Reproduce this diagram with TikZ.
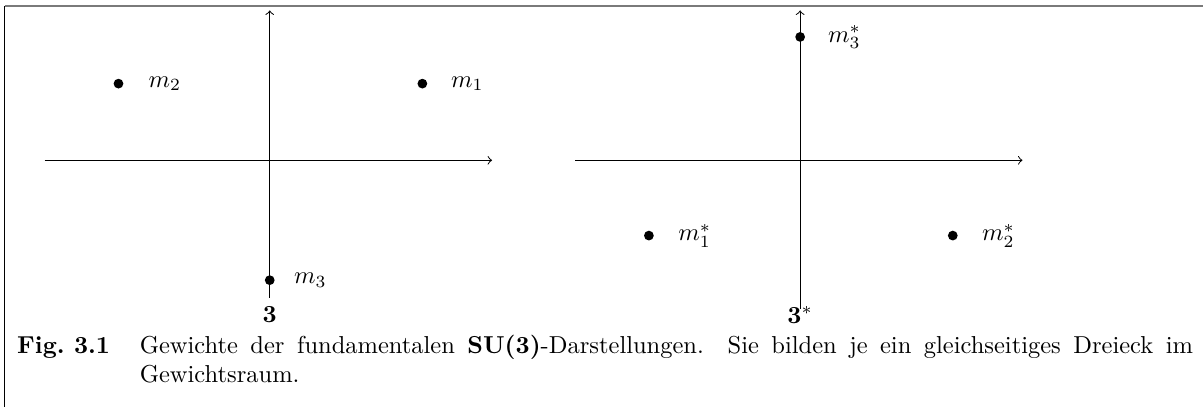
\documentclass[tikz,border=0pt]{standalone}
\usetikzlibrary{positioning}
\definecolor{framegray}{HTML}{7A7A7A}

\begin{document}
\begin{tikzpicture}[
    weight/.style={circle,fill=black,inner sep=0pt,minimum size=1.4mm},
    caption/.style={anchor=north west,inner sep=0pt}]
  \useasboundingbox (-3.87,-3.54) rectangle (13.39,2.30);
  % frame
  \draw[framegray,line width=1pt] (-3.80,2.21) -- (13.39,2.21);
  \draw (-3.80,2.21) -- (-3.80,-3.54);

  % fundamental representation
  \draw[->] (-3.23,0) -- (3.19,0);
  \draw[->] (0,-1.97) -- (0,2.15);
  \node[weight] (m1) at (2.19,1.10) {};
  \node[weight] (m2) at (-2.17,1.10) {};
  \node[weight] (m3) at (0,-1.72) {};
  \node[right=2.1mm of m1] {$m_1$};
  \node[right=2.3mm of m2] {$m_2$};
  \node[right=1.5mm of m3] {$m_3$};
  \node (rep) at (0,-2.22) {$\mathbf{3}$};

  % conjugate representation
  \begin{scope}[xshift=7.61cm]
    \draw[->] (-3.23,0) -- (3.19,0);
    \draw[->] (0,-2.13) -- (0,2.15);
    \node[weight] (c1) at (-2.17,-1.08) {};
    \node[weight] (c2) at (2.19,-1.08) {};
    \node[weight] (c3) at (0,1.77) {};
    \node[right=2.2mm of c1] {$m_1^*$};
    \node[right=2.2mm of c2] {$m_2^*$};
    \node[right=2.0mm of c3] {$m_3^*$};
    \node (crep) at (0,-2.22) {$\mathbf{3}^*$};
  \end{scope}

  % caption
  \node[caption] (fig) at (-3.63,-2.52) {\textbf{Fig.\ 3.1}};
  \node[caption,text width=15.11cm,align=justify] (text) at (-1.87,-2.50)
    {Gewichte der fundamentalen \textbf{SU(3)}-Darstellungen. Sie bilden je ein gleichseitiges Dreieck im\linebreak Gewichtsraum.};
\end{tikzpicture}
\end{document}
